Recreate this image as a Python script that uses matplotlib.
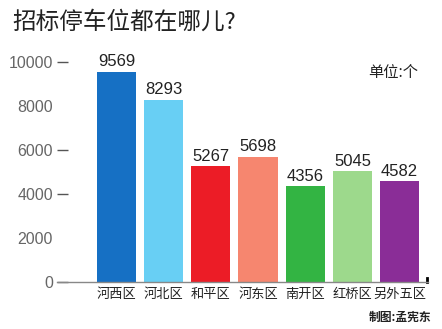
import matplotlib
matplotlib.use("Agg")
import matplotlib.pyplot as plt

plt.rcParams['font.family'] = ['Liberation Sans', 'Noto Sans CJK SC', 'DejaVu Sans']

districts = ["河西区", "河北区", "和平区", "河东区", "南开区", "红桥区", "另外五区"]
spaces = [9569, 8293, 5267, 5698, 4356, 5045, 4582]
colors = ["#1670c4", "#68cff4", "#ec1c26", "#f6866f", "#33b443", "#9dd98c", "#8a2d97"]
yticks = [0, 2000, 4000, 6000, 8000, 10000]

W, H = 442, 329
fig = plt.figure(figsize=(W / 100, H / 100), dpi=100)
ax = fig.add_axes([57 / W, (H - 282) / H, (428 - 57) / W, (282 - 62.5) / H])

x = list(range(len(districts)))
ax.bar(x, spaces, width=0.83, color=colors)
for xi, v in zip(x, spaces):
    ax.text(xi, v + 120, str(v), ha="center", va="bottom", fontsize=12,
            color="#222222", family="Liberation Sans")

ax.set_xlim(-1.26, 6.6)
ax.set_ylim(0, 10000)
ax.set_yticks(yticks)
ax.set_yticklabels([str(t) for t in yticks], fontsize=11.5, color="#666666")
ax.tick_params(axis="y", direction="in", length=8, width=1, color="#555555", pad=3)
for t, val in zip(ax.yaxis.get_major_ticks(), yticks):
    if val in (2000, 8000):
        t.tick1line.set_visible(False)
ax.set_xticks(x)
ax.set_xticklabels(districts, fontsize=9.5, color="#222222",
                   family=["Noto Sans CJK SC", "DejaVu Sans"])
ax.tick_params(axis="x", length=0, pad=4)

for s in ["top", "right", "left"]:
    ax.spines[s].set_visible(False)
ax.spines["bottom"].set_color("#888888")
ax.spines["bottom"].set_linewidth(1)
ax.plot([6.57, 6.57], [0, 200], color="black", lw=2, clip_on=False)

fig.text(12 / W, 1 - 22 / H, "招标停车位都在哪儿?", fontsize=17, va="center",
         color="#222222", family=["Noto Sans CJK SC", "DejaVu Sans"])
fig.text(368 / W, 1 - 73 / H, "单位:个", fontsize=11, va="center",
         color="#222222", family=["Noto Sans CJK SC", "DejaVu Sans"])
fig.text(431 / W, 1 - 317 / H, "制图:孟宪东", fontsize=8.5, va="center", ha="right",
         color="#222222", fontweight="bold", family=["Noto Sans CJK SC", "DejaVu Sans"])

fig.savefig("out.png", dpi=100)
